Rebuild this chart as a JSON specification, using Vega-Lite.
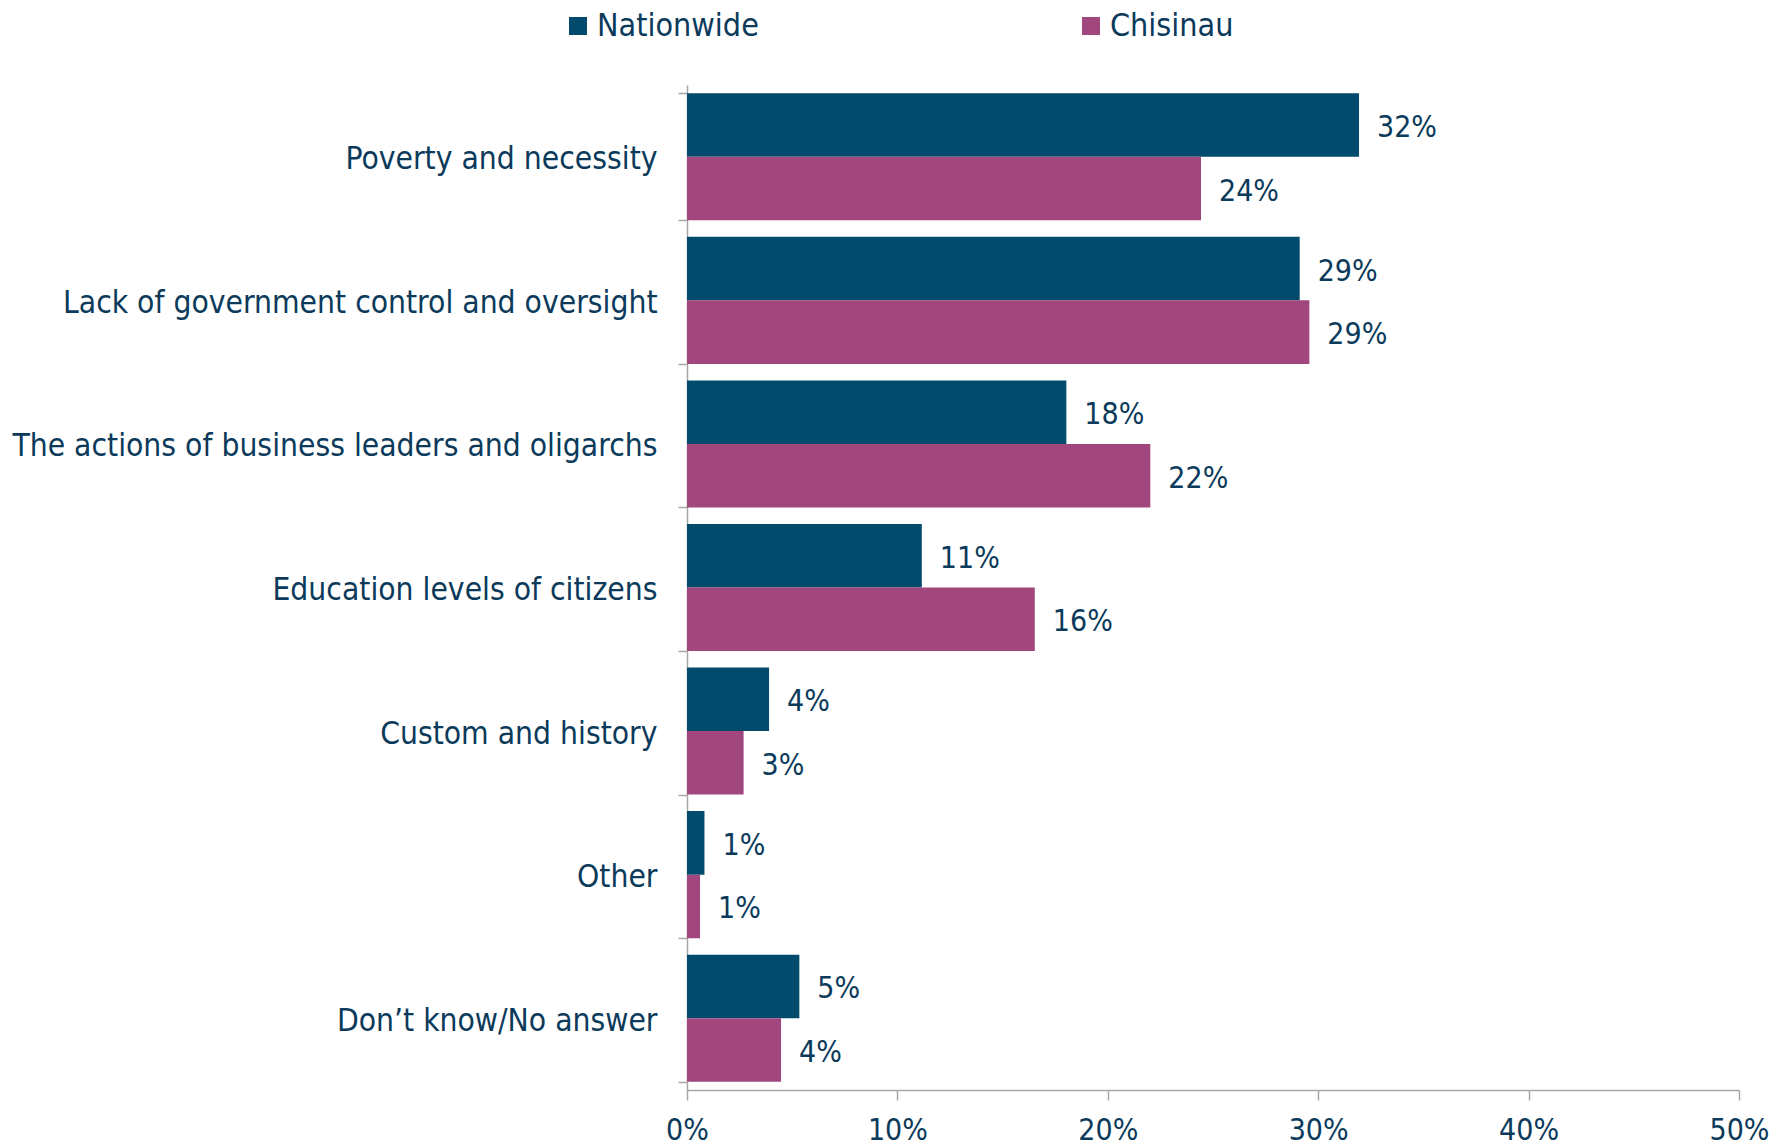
{
  "$schema": "https://vega.github.io/schema/vega-lite/v6.json",
  "width": 1052,
  "height": 1005,
  "autosize": {"type": "none"},
  "padding": {"left": 687, "top": 85, "right": 46, "bottom": 56},
  "data": {
    "values": [
      {"cause": "Poverty and necessity", "group": "Nationwide", "value": 31.94, "label": "32%"},
      {"cause": "Poverty and necessity", "group": "Chisinau", "value": 24.43, "label": "24%"},
      {"cause": "Lack of government control and oversight", "group": "Nationwide", "value": 29.12, "label": "29%"},
      {"cause": "Lack of government control and oversight", "group": "Chisinau", "value": 29.58, "label": "29%"},
      {"cause": "The actions of business leaders and oligarchs", "group": "Nationwide", "value": 18.03, "label": "18%"},
      {"cause": "The actions of business leaders and oligarchs", "group": "Chisinau", "value": 22.02, "label": "22%"},
      {"cause": "Education levels of citizens", "group": "Nationwide", "value": 11.16, "label": "11%"},
      {"cause": "Education levels of citizens", "group": "Chisinau", "value": 16.53, "label": "16%"},
      {"cause": "Custom and history", "group": "Nationwide", "value": 3.9, "label": "4%"},
      {"cause": "Custom and history", "group": "Chisinau", "value": 2.69, "label": "3%"},
      {"cause": "Other", "group": "Nationwide", "value": 0.83, "label": "1%"},
      {"cause": "Other", "group": "Chisinau", "value": 0.62, "label": "1%"},
      {"cause": "Don’t know/No answer", "group": "Nationwide", "value": 5.34, "label": "5%"},
      {"cause": "Don’t know/No answer", "group": "Chisinau", "value": 4.47, "label": "4%"}
    ]
  },
  "encoding": {
    "y": {
      "field": "cause",
      "type": "nominal",
      "sort": null,
      "scale": {"paddingInner": 0.115, "paddingOuter": 0.0575},
      "axis": {
        "title": null,
        "tickBand": "extent",
        "tickSize": 9,
        "labelPadding": 21,
        "labelLimit": 900,
        "labelFontSize": 31.5,
        "labelOffset": 3
      }
    },
    "yOffset": {"field": "group", "sort": ["Nationwide", "Chisinau"]},
    "x": {
      "field": "value",
      "type": "quantitative",
      "scale": {"domain": [0, 50], "nice": false},
      "axis": {
        "title": null,
        "values": [0, 10, 20, 30, 40, 50],
        "labelExpr": "datum.value + '%'",
        "labelFlush": false,
        "tickSize": 10,
        "labelPadding": 15,
        "labelFontSize": 30,
        "grid": false
      }
    }
  },
  "layer": [
    {
      "mark": {"type": "bar"},
      "encoding": {
        "color": {
          "field": "group",
          "type": "nominal",
          "scale": {"domain": ["Nationwide", "Chisinau"], "range": ["#024B6C", "#A1477D"]},
          "legend": {
            "title": null,
            "orient": "none",
            "direction": "horizontal",
            "legendX": -125,
            "legendY": -75,
            "symbolType": "square",
            "symbolSize": 324,
            "symbolStrokeWidth": 0,
            "labelFontSize": 32,
            "labelOffset": 3,
            "labelLimit": 400,
            "columnPadding": 316,
            "padding": 0
          }
        }
      }
    },
    {
      "mark": {"type": "text", "align": "left", "baseline": "middle", "dx": 18, "dy": 3, "fontSize": 30, "color": "#0B3A5B"},
      "encoding": {"text": {"field": "label"}}
    }
  ],
  "config": {
    "font": "DejaVu Sans Condensed",
    "view": {"stroke": null},
    "axis": {
      "domainColor": "#A6A6A6",
      "domainWidth": 1.5,
      "tickColor": "#A6A6A6",
      "tickWidth": 1.5,
      "labelColor": "#0B3A5B",
      "labelFont": "DejaVu Sans Condensed"
    },
    "legend": {"labelColor": "#0B3A5B", "labelFont": "DejaVu Sans Condensed"}
  }
}
